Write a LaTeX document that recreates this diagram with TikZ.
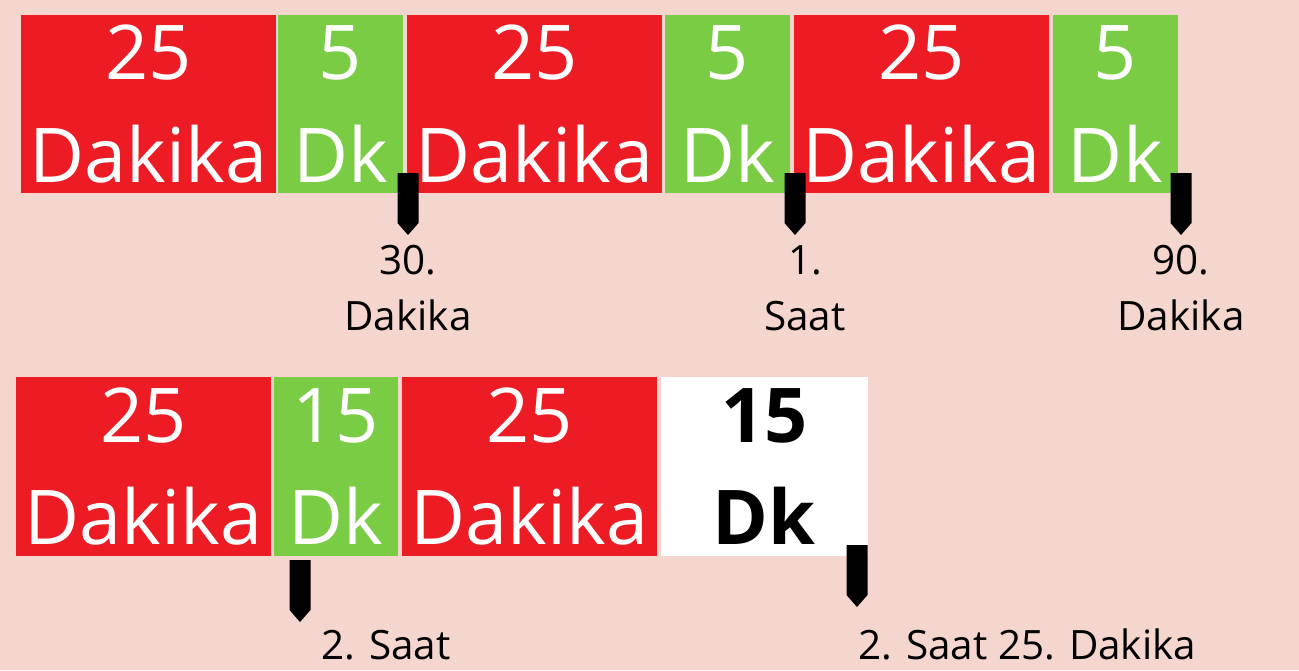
\documentclass[tikz,border=0pt]{standalone}
\usepackage{fontspec}
\setmainfont{Open Sans}
\usepackage{tikz}
\usetikzlibrary{positioning}
\definecolor{WorkRed}{RGB}{237,28,36}
\definecolor{BreakGreen}{RGB}{122,204,68}
\definecolor{PaperPink}{RGB}{245,214,206}
\tikzset{
  slot/.style={inner sep=0pt,outer sep=0pt,text=white,align=center,
    font=\fontsize{43}{58.5}\selectfont},
  work/.style={slot,fill=WorkRed,minimum width=5.1cm,minimum height=3.56cm},
  rest/.style={slot,fill=BreakGreen,minimum width=2.5cm,minimum height=3.56cm},
  longrest/.style={slot,fill=white,text=black,minimum width=4.14cm,minimum height=3.58cm,
    font=\fontsize{43}{58.5}\selectfont\bfseries},
  note/.style={inner sep=0pt,align=center,text=black,font=\fontsize{23}{32}\selectfont},
}

\begin{document}
\begin{tikzpicture}[x=0.02cm,y=-0.02cm]
        \fill[PaperPink] (0,0) rectangle (1299,670);
        \useasboundingbox (0,0) rectangle (1299,670);
        % first row
        \node[work,anchor=north west] (w1) at (21,15) {25\\Dakika};
        \node[rest,right=0.04cm of w1] (b1) {5\\Dk};
        \node[work,right=0.08cm of b1] (w2) {25\\Dakika};
        \node[rest,right=0.06cm of w2] (b2) {5\\Dk};
        \node[work,right=0.08cm of b2] (w3) {25\\Dakika};
        \node[rest,right=0.08cm of w3] (b3) {5\\Dk};
        % second row
        \node[work,anchor=north west,minimum height=3.58cm] (w4) at (16,377) {25\\Dakika};
        \node[rest,minimum width=2.48cm,minimum height=3.58cm,right=0.06cm of w4] (b4) {15\\Dk};
        \node[work,minimum height=3.58cm,right=0.08cm of b4] (w5) {25\\Dakika};
        \node[longrest,right=0.08cm of w5] (b5) {15\\Dk};
        % markers
        \foreach \x/\y in {408/173,795/173,1181/173,300/560,857/545}
          \fill[black] (\x-10.5,\y) -- (\x+10.5,\y) -- (\x+10.5,\y+50)
            -- (\x,\y+62) -- (\x-10.5,\y+50) -- cycle;
        \node[note] (t30) at (408,288) {30.\\Dakika};
        \node[note] (t60) at (805,288) {1.\\Saat};
        \node[note] (t90) at (1181,288) {90.\\Dakika};
        \node[note,anchor=base] (t120) at (386,659) {2. Saat};
        \node[note,anchor=base west] (t145) at (858,659) {2. Saat 25. Dakika};
      \end{tikzpicture}
\end{document}
